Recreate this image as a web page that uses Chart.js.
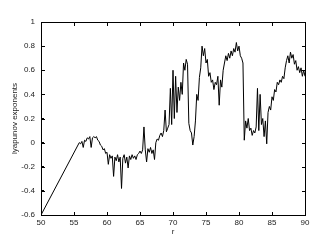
<!DOCTYPE html>
<html>
<head>
<meta charset="utf-8">
<script src="https://cdn.jsdelivr.net/npm/chart.js@4/dist/chart.umd.min.js"></script>
<style>
  body { margin: 0; background: #fff; }
</style>
</head>
<body>
<canvas id="myChart" width="332" height="244"></canvas>
<script>
// r values (x axis)
const rValues = [
  50.0, 55.8,
  56.0, 56.2, 56.4, 56.6, 56.8, 57.0, 57.2, 57.4, 57.6, 57.8,
  58.0, 58.2, 58.4, 58.6, 58.8, 59.0, 59.2, 59.4, 59.6, 59.8,
  60.0, 60.2, 60.4, 60.6, 60.8, 61.0, 61.2, 61.4, 61.6, 61.8,
  62.0, 62.2, 62.4, 62.6, 62.8, 63.0, 63.2, 63.4, 63.6, 63.8,
  64.0, 64.2, 64.4, 64.6, 64.8, 65.0, 65.2, 65.4, 65.6, 65.8,
  66.0, 66.2, 66.4, 66.6, 66.8, 67.0, 67.2, 67.4, 67.6, 67.8,
  68.0, 68.2, 68.4, 68.6, 68.8, 69.0, 69.2, 69.4, 69.6, 69.8,
  70.0, 70.2, 70.4, 70.6, 70.8, 71.0, 71.2, 71.4, 71.6, 71.8,
  72.0, 72.2, 72.4, 72.6, 72.8, 73.0, 73.2, 73.4, 73.6, 73.8,
  74.0, 74.2, 74.4, 74.6, 74.8, 75.0, 75.2, 75.4, 75.6, 75.8,
  76.0, 76.2, 76.4, 76.6, 76.8, 77.0, 77.2, 77.4, 77.6, 77.8,
  78.0, 78.2, 78.4, 78.6, 78.8, 79.0, 79.2, 79.4, 79.6, 79.8,
  80.0, 80.2, 80.4, 80.6, 80.8, 81.0, 81.2, 81.4, 81.6, 81.8,
  82.0, 82.2, 82.4, 82.6, 82.8, 83.0, 83.2, 83.4, 83.6, 83.8,
  84.0, 84.2, 84.4, 84.6, 84.8, 85.0, 85.2, 85.4, 85.6, 85.8,
  86.0, 86.2, 86.4, 86.6, 86.8, 87.0, 87.2, 87.4, 87.6, 87.8,
  88.0, 88.2, 88.4, 88.6, 88.8, 89.0, 89.2, 89.4, 89.6, 89.8,
  90.0
];

// lyapunov exponent
const lyapunov = [
  -0.60, 0.00,
  -0.01, 0.01, -0.04, 0.02, 0.01, 0.04, 0.03, 0.05, -0.04, 0.04,
  0.05, 0.04, 0.05, 0.02, 0.01, -0.02, -0.03, -0.06, -0.05, -0.09,
  -0.08, -0.18, -0.10, -0.13, -0.11, -0.28, -0.12, -0.15, -0.10, -0.16,
  -0.12, -0.38, -0.13, -0.10, -0.17, -0.12, -0.21, -0.11, -0.14, -0.10,
  -0.13, -0.11, -0.14, -0.10, -0.09, -0.07, -0.09, -0.06, 0.13, -0.06,
  -0.16, -0.05, -0.08, -0.04, -0.09, -0.06, -0.14, 0.00, 0.03, 0.02,
  0.06, 0.08, 0.05, 0.10, 0.27, 0.09, 0.12, 0.15, 0.45, 0.15,
  0.60, 0.20, 0.55, 0.25, 0.46, 0.35, 0.50, 0.40, 0.66, 0.60,
  0.69, 0.65, 0.16, 0.10, 0.08, -0.02, 0.05, 0.18, 0.40, 0.35,
  0.54, 0.62, 0.80, 0.72, 0.78, 0.66, 0.69, 0.55, 0.58, 0.50,
  0.52, 0.44, 0.50, 0.48, 0.55, 0.31, 0.52, 0.46, 0.60, 0.66,
  0.72, 0.68, 0.74, 0.70, 0.76, 0.72, 0.78, 0.75, 0.83, 0.76,
  0.80, 0.72, 0.70, 0.66, 0.02, 0.18, 0.12, 0.20, 0.10, 0.12,
  0.06, 0.10, 0.08, 0.13, 0.45, 0.10, 0.40, 0.15, 0.20, 0.05,
  0.18, -0.01, 0.25, 0.30, 0.27, 0.38, 0.35, 0.44, 0.42, 0.50,
  0.48, 0.52, 0.50, 0.55, 0.53, 0.62, 0.68, 0.72, 0.66, 0.75,
  0.70, 0.73, 0.65, 0.68, 0.60, 0.63, 0.58, 0.62, 0.55, 0.60,
  0.55
];

const xTicks = [50, 55, 60, 65, 70, 75, 80, 85, 90];
const yTicks = [-0.6, -0.4, -0.2, 0, 0.2, 0.4, 0.6, 0.8, 1];

const points = rValues.map((r, i) => ({ x: r, y: lyapunov[i] }));

const font = { family: 'Liberation Sans, Arial, sans-serif', size: 8 };

// box round the plot and inward ticks, drawn as 1px filled rects
const boxPlugin = {
  id: 'boxFill',
  afterDraw(chart) {
    const ctx = chart.ctx;
    const a = chart.chartArea;
    const xs = chart.scales.x;
    const ys = chart.scales.y;
    const L = Math.round(a.left), R = Math.round(a.right);
    const T = Math.round(a.top), B = Math.round(a.bottom);
    ctx.save();
    ctx.fillStyle = '#000';
    ctx.fillRect(L, T, R - L + 1, 1);
    ctx.fillRect(L, B, R - L + 1, 1);
    ctx.fillRect(L, T, 1, B - T + 1);
    ctx.fillRect(R, T, 1, B - T + 1);
    xTicks.forEach(v => {
      const px = Math.round(xs.getPixelForValue(v));
      ctx.fillRect(px, B - 3, 1, 3);
      ctx.fillRect(px, T + 1, 1, 3);
    });
    yTicks.forEach(v => {
      const py = Math.round(ys.getPixelForValue(v));
      ctx.fillRect(L + 1, py, 3, 1);
      ctx.fillRect(R - 3, py, 3, 1);
    });
    ctx.restore();
  }
};

const boxGrid = { display: true, drawOnChartArea: false, drawTicks: true, tickLength: -3, color: '#000', lineWidth: 1 };
const boxBorder = { display: true, color: '#000', width: 1 };

new Chart(document.getElementById('myChart').getContext('2d'), {
  type: 'line',
  data: {
    datasets: [{
      data: points,
      borderColor: '#000',
      borderWidth: 1,
      pointRadius: 0,
      tension: 0,
      fill: false
    }]
  },
  options: {
    responsive: false,
    animation: false,
    devicePixelRatio: 1,
    layout: { padding: { top: 22, right: 27, left: 0, bottom: 0 } },
    plugins: { legend: { display: false }, tooltip: { enabled: false } },
    scales: {
      x: {
        type: 'linear',
        position: 'bottom',
        min: 50,
        max: 90,
        afterBuildTicks: s => { s.ticks = xTicks.map(v => ({ value: v })); },
        afterFit: s => { s.height = 29; },
        grid: boxGrid,
        border: boxBorder,
        ticks: { font, color: '#222', padding: 6, maxRotation: 0 },
        title: { display: true, text: 'r', font, color: '#222', padding: { top: 0, bottom: 7 } }
      },
      y: {
        type: 'linear',
        position: 'left',
        min: -0.6,
        max: 1,
        afterBuildTicks: s => { s.ticks = yTicks.map(v => ({ value: v })); },
        afterFit: s => { s.width = 41; },
        grid: boxGrid,
        border: boxBorder,
        ticks: {
          font, color: '#222', padding: 9,
          callback: v => String(Number(v.toFixed(1)))
        },
        title: { display: true, text: 'lyapunov exponents', font, color: '#222', padding: { top: 10, bottom: 0 } }
      }
    }
  },
  plugins: [boxPlugin]
});
</script>
</body>
</html>
